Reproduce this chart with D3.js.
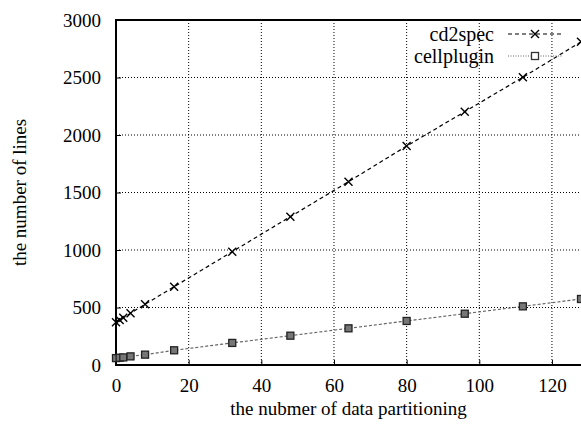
<!DOCTYPE html>
<html>
<head>
<meta charset="utf-8">
<script src="https://cdn.jsdelivr.net/npm/d3@7"></script>
</head>
<body style="margin:0">
<svg id="plot" width="581" height="428" style="font-family: 'Times New Roman', 'Liberation Serif', Tinos"></svg>
<script>
// data
const partitions = [0, 1, 2, 4, 8, 16, 32, 48, 64, 80, 96, 112, 128];
const cd2spec = [372, 392, 410, 450, 528, 681, 985, 1290, 1594, 1904, 2203, 2502, 2810];
const cellplugin = [60, 63, 66, 75, 90, 128, 192, 255, 319, 383, 446, 510, 574];
const seriesNames = ['cd2spec', 'cellplugin'];
const xTicks = [0, 20, 40, 60, 80, 100, 120];
const yTicks = [0, 500, 1000, 1500, 2000, 2500, 3000];

let dimensions = {
	width: 581,
	height: 428,
	margins: {
		top: 20,
		right: 0,
		bottom: 63,
		left: 116
	}
};

dimensions.boundedWidth = dimensions.width
	- dimensions.margins.left
	- dimensions.margins.right;

dimensions.boundedHeight = dimensions.height
	- dimensions.margins.top
	- dimensions.margins.bottom;

const svg = d3.select('#plot');

const bounds = svg.append('g')
	.attr('transform', `translate(${dimensions.margins.left},${dimensions.margins.top})`);

const xScale = d3.scaleLinear()
	.domain([0, 128])
	.range([0, dimensions.boundedWidth]);

const yScale = d3.scaleLinear()
	.domain([0, 3000])
	.range([dimensions.boundedHeight, 0]);

const setFont = (sel, size) => sel
	.style('font-family', '"Times New Roman", "Liberation Serif", Tinos')
	.style('font-size', size + 'px')
	.attr('fill', '#000');

// grid (dotted)
bounds.append('g')
	.selectAll('line')
	.data(xTicks.filter(d => d > 0))
	.join('line')
		.attr('x1', d => xScale(d))
		.attr('x2', d => xScale(d))
		.attr('y1', 0)
		.attr('y2', dimensions.boundedHeight)
		.attr('stroke', '#000')
		.attr('stroke-width', 1)
		.attr('stroke-dasharray', '1,2');

bounds.append('g')
	.selectAll('line')
	.data(yTicks.filter(d => d > 0 && d < 3000))
	.join('line')
		.attr('x1', 0)
		.attr('x2', dimensions.boundedWidth)
		.attr('y1', d => yScale(d))
		.attr('y2', d => yScale(d))
		.attr('stroke', '#000')
		.attr('stroke-width', 1)
		.attr('stroke-dasharray', '1,2');

// axes
const yAxisGenerator = d3.axisLeft()
	.scale(yScale)
	.tickValues(yTicks)
	.tickFormat(d3.format('d'))
	.tickSize(-5)
	.tickPadding(15);

const yAxis = bounds.append('g')
	.call(yAxisGenerator)
	.attr('font-family', null)
	.attr('font-size', null);
yAxis.select('.domain').remove();
setFont(yAxis.selectAll('text'), 19);

const xAxisGenerator = d3.axisBottom()
	.scale(xScale)
	.tickValues(xTicks)
	.tickFormat(d3.format('d'))
	.tickSize(-5)
	.tickPadding(14);

const xAxis = bounds.append('g')
	.attr('transform', `translate(0,${dimensions.boundedHeight})`)
	.call(xAxisGenerator)
	.attr('font-family', null)
	.attr('font-size', null);
xAxis.select('.domain').remove();
setFont(xAxis.selectAll('text'), 19);

// frame: left, bottom, top
bounds.append('path')
	.attr('d', `M${dimensions.boundedWidth + 2},0H0V${dimensions.boundedHeight}H${dimensions.boundedWidth + 2}`)
	.attr('fill', 'none')
	.attr('stroke', '#000')
	.attr('stroke-width', 2);

// lines
const lineGenerator = values => d3.line()
	.x((d, i) => xScale(partitions[i]))
	.y(d => yScale(d))(values);

bounds.append('path')
	.attr('d', lineGenerator(cellplugin))
	.attr('fill', 'none')
	.attr('stroke', '#666')
	.attr('stroke-width', 1.2)
	.attr('stroke-dasharray', '3,2');

bounds.append('path')
	.attr('d', lineGenerator(cd2spec))
	.attr('fill', 'none')
	.attr('stroke', '#000')
	.attr('stroke-width', 1.2)
	.attr('stroke-dasharray', '4,3');

// markers
const drawCross = (sel, x, y) => {
	sel.append('path')
		.attr('d', `M${x - 4},${y - 4}L${x + 4},${y + 4}M${x - 4},${y + 4}L${x + 4},${y - 4}`)
		.attr('stroke', '#000')
		.attr('stroke-width', 1.4);
};
const drawBox = (sel, x, y) => {
	sel.append('rect')
		.attr('x', x - 3.5)
		.attr('y', y - 3.5)
		.attr('width', 7)
		.attr('height', 7)
		.attr('fill', '#777')
		.attr('stroke', '#222')
		.attr('stroke-width', 1.3);
};

const crossLayer = bounds.append('g');
cd2spec.forEach((v, i) => drawCross(crossLayer, xScale(partitions[i]), yScale(v)));
const boxLayer = bounds.append('g');
cellplugin.forEach((v, i) => drawBox(boxLayer, xScale(partitions[i]), yScale(v)));

// legend
const legend = svg.append('g');
seriesNames.forEach((name, i) => {
	const y = 34 + i * 22;
	setFont(legend.append('text')
		.attr('x', 494)
		.attr('y', y)
		.attr('dy', '0.35em')
		.attr('text-anchor', 'end')
		.text(name), 20);
	legend.append('line')
		.attr('x1', 508)
		.attr('x2', 563)
		.attr('y1', y)
		.attr('y2', y)
		.attr('stroke', i === 0 ? '#000' : '#666')
		.attr('stroke-width', 1.2)
		.attr('stroke-dasharray', i === 0 ? '4,3' : '1,1.5');
	if (i === 0) drawCross(legend, 535, y);
	else {
		legend.append('rect')
			.attr('x', 531.5)
			.attr('y', y - 3.5)
			.attr('width', 7)
			.attr('height', 7)
			.attr('fill', '#fff')
			.attr('stroke', '#333')
			.attr('stroke-width', 1.3);
	}
});

// axis labels
setFont(svg.append('text')
	.attr('x', dimensions.margins.left + dimensions.boundedWidth / 2)
	.attr('y', 415)
	.attr('text-anchor', 'middle')
	.text('the nubmer of data partitioning'), 19);

setFont(svg.append('text')
	.attr('transform', `translate(26,${dimensions.margins.top + dimensions.boundedHeight / 2}) rotate(-90)`)
	.attr('text-anchor', 'middle')
	.text('the number of lines'), 19);
</script>
</body>
</html>
